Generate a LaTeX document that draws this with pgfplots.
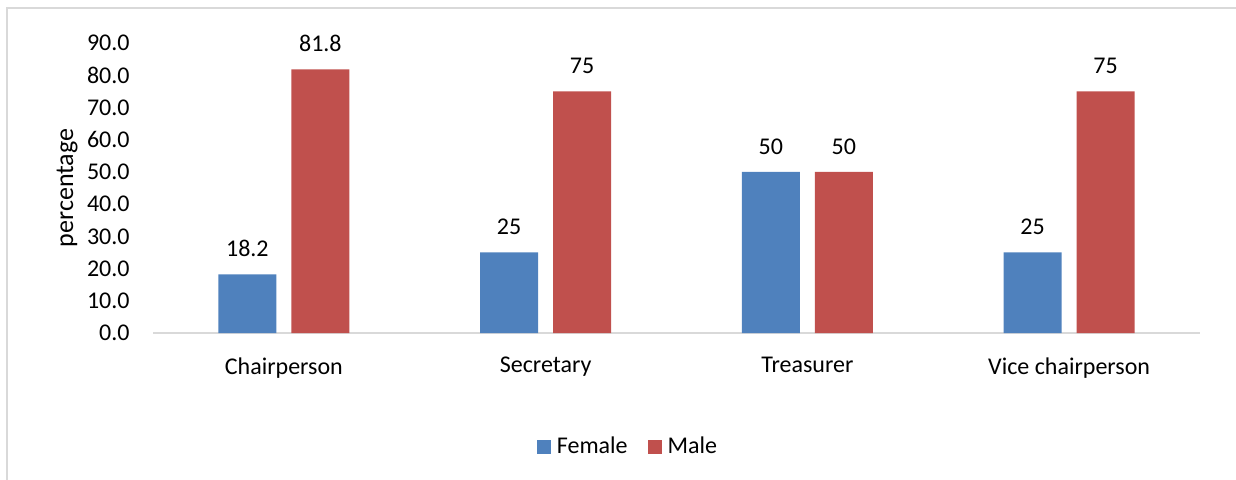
\documentclass[border=0pt]{standalone}
\usepackage{pgfplots}
\pgfplotsset{compat=1.18}
\usepackage{fontspec}
\setmainfont{Carlito}
\definecolor{fem}{HTML}{4F81BD}
\definecolor{mal}{HTML}{C0504D}
\definecolor{framec}{HTML}{D9D9D9}
\begin{document}
\begin{tikzpicture}[font=\fontsize{12}{14}\selectfont]
\begin{axis}[
  at={(76.5pt,73pt)}, anchor=south west,
  scale only axis, width=523.5pt, height=145pt,
  ybar=7.5pt, bar width=29pt,
  xmin=-0.5, xmax=3.5, ymin=0, ymax=90,
  xtick={0,1,2,3},
  xticklabels={Chairperson,Secretary,Treasurer,Vice chairperson},
  ytick={0,10,20,30,40,50,60,70,80,90},
  /pgf/number format/assume math mode=true,
  yticklabel style={/pgf/number format/fixed, /pgf/number format/fixed zerofill, /pgf/number format/precision=1, anchor=east, inner sep=0pt, xshift=-11.5pt},
  xticklabel style={anchor=north, inner sep=0pt, yshift=-12pt},
  tick style={draw=none}, major tick length=0pt,
  axis lines*=left, separate axis lines,
  y axis line style={draw=none},
  x axis line style={draw=framec, line width=0.75pt},
  ylabel={percentage},
  ylabel style={at={(axis description cs:-0.0821,0.5)}, anchor=center, font=\fontsize{13}{15}\selectfont},
  nodes near coords,
  every node near coord/.append style={anchor=south, inner sep=0pt, yshift=8.6pt, text=black},
  clip=false,
  legend columns=2,
  legend style={at={(axis description cs:0.4527,-0.392)}, anchor=center, draw=none,
    nodes={inner sep=0pt},
    /tikz/every odd column/.append style={column sep=3pt},
    /tikz/every even column/.append style={column sep=10pt}},
  legend image code/.code={\fill[#1] (0pt,-3.5pt) rectangle (7pt,3.5pt);},
]
\addplot[fill=fem, draw=none] coordinates {(0,18.2) (1,25) (2,50) (3,25)};
\addplot[fill=mal, draw=none] coordinates {(0,81.8) (1,75) (2,50) (3,75)};
\legend{Female, Male}
\end{axis}
\draw[framec, line width=0.75pt] (3.5pt,-20pt) -- (3.5pt,235.5pt) -- (640pt,235.5pt);
\pgfresetboundingbox
\path[use as bounding box] (0,0) rectangle (618pt,239.5pt);
\end{tikzpicture}
\end{document}
